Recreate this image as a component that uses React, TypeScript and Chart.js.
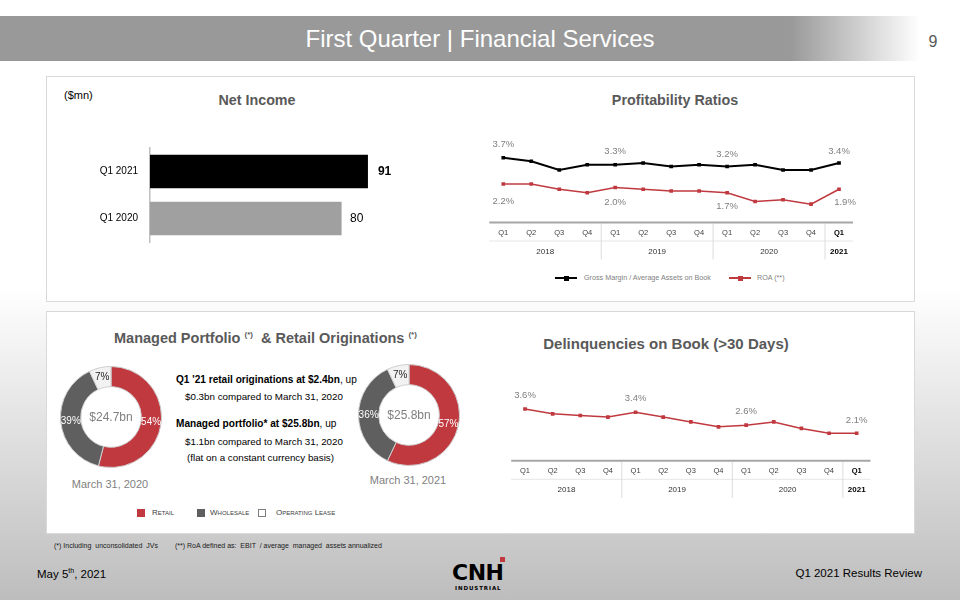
import React, { useEffect, useRef } from 'react';
import { Chart, registerables } from 'chart.js';

Chart.register(...registerables);

const FONT = '"Liberation Sans", Arial, Helvetica, sans-serif';
Chart.defaults.font.family = FONT;

// ---------- data ----------
const netIncomeLabels = ['Q1 2021', 'Q1 2020'];
const netIncomeValues = [91, 80];

const quarterLabels = ['Q1', 'Q2', 'Q3', 'Q4', 'Q1', 'Q2', 'Q3', 'Q4', 'Q1', 'Q2', 'Q3', 'Q4', 'Q1'];
const yearLabels = ['2018', '2019', '2020', '2021'];
const quartersPerYear = [4, 4, 4, 1];

const grossMarginValues = [3.7, 3.5, 3.0, 3.3, 3.3, 3.4, 3.2, 3.3, 3.2, 3.3, 3.0, 3.0, 3.4];
const roaValues = [2.2, 2.2, 1.9, 1.7, 2.0, 1.9, 1.8, 1.8, 1.7, 1.2, 1.3, 1.05, 1.9];
const delinquencyValues = [3.6, 3.3, 3.2, 3.1, 3.4, 3.1, 2.8, 2.5, 2.6, 2.8, 2.4, 2.1, 2.1];

const portfolioSegments = ['Retail', 'Wholesale', 'Operating Lease'];
const portfolio2020 = [54, 39, 7];
const portfolio2021 = [57, 36, 7];
const portfolioTotals = ['$24.7bn', '$25.8bn'];
const portfolioDates = ['March 31, 2020', 'March 31, 2021'];

// ---------- styles ----------
const RED = '#c0393f';
const DARK = '#5f5f5f';
const LIGHT = '#f2f2f2';
const TITLE_GRAY = '#595959';

type TextProps = {
  x: number; y: number; size?: number; color?: string; weight?: number | string;
  align?: 'left' | 'center' | 'right'; family?: string; style?: React.CSSProperties; children?: React.ReactNode;
};
const Text = ({ x, y, size = 11, color = '#000', weight = 400, align = 'left', family = FONT, style, children }: TextProps) => {
  const transform = align === 'center' ? 'translate(-50%,-50%)' : align === 'right' ? 'translate(-100%,-50%)' : 'translateY(-50%)';
  return (
    <div style={{ position: 'absolute', left: x, top: y, transform, fontSize: size, color, fontWeight: weight as any, fontFamily: family, whiteSpace: 'pre', lineHeight: 1, ...style }}>
      {children}
    </div>
  );
};

// ---------- net income bar chart ----------
const NetIncomeChart = () => {
  const ref = useRef<HTMLCanvasElement>(null);
  useEffect(() => {
    const labelPlugin = {
      id: 'barValueLabels',
      afterDatasetsDraw(chart: any) {
        const { ctx } = chart;
        const meta = chart.getDatasetMeta(0);
        ctx.save();
        meta.data.forEach((bar: any, i: number) => {
          ctx.font = `${i === 0 ? 'bold ' : ''}12px ${FONT}`;
          ctx.fillStyle = '#000';
          ctx.textAlign = 'left';
          ctx.textBaseline = 'middle';
          ctx.fillText(String(netIncomeValues[i]), bar.x + (i === 0 ? 10 : 8.5), bar.y);
        });
        ctx.restore();
      },
    };
    const chart = new Chart(ref.current!, {
      type: 'bar',
      data: {
        labels: netIncomeLabels,
        datasets: [{ data: netIncomeValues, backgroundColor: ['#000000', '#a0a0a0'], barPercentage: 0.71, categoryPercentage: 1 }],
      },
      options: {
        indexAxis: 'y',
        animation: false,
        responsive: false,
        layout: { padding: { left: 0, right: 30.5, top: 12.7, bottom: 13.3 } },
        plugins: { legend: { display: false }, tooltip: { enabled: false } },
        scales: {
          x: { display: false, min: 0, max: 100 },
          y: {
            grid: { display: false, drawTicks: false },
            border: { display: true, color: '#bfbfbf', width: 1.5 },
            ticks: { color: '#000', font: { size: 10 }, padding: 12 },
            afterFit: (s: any) => { s.width = 90; },
          },
        },
      } as any,
      plugins: [labelPlugin],
    });
    return () => chart.destroy();
  }, []);
  return <canvas ref={ref} width={360} height={130} style={{ position: 'absolute', left: 60, top: 130 }} />;
};

// ---------- line chart with quarter / year table ----------
type LabelSpec = { ds: number; idx: number; dy: number; dx?: number };
type LineChartProps = {
  left: number; top: number; width: number; height: number;
  padding: { left: number; right: number; top: number; bottom: number };
  axisHeight: number; yMin: number; yMax: number;
  series: { data: number[]; color: string; width: number }[];
  labels: LabelSpec[];
};

const LineTableChart = (p: LineChartProps) => {
  const ref = useRef<HTMLCanvasElement>(null);
  useEffect(() => {
    const tablePlugin = {
      id: 'quarterYearTable',
      afterDraw(chart: any) {
        const { ctx, chartArea, scales } = chart;
        const x = scales.x;
        const top = chartArea.bottom;
        ctx.save();
        // row divider
        ctx.strokeStyle = '#e6e6e6';
        ctx.lineWidth = 1;
        ctx.beginPath();
        ctx.moveTo(chartArea.left, top + 18.5);
        ctx.lineTo(chartArea.right, top + 18.5);
        ctx.stroke();
        // year cells
        let idx = 0;
        let cellLeft = chartArea.left;
        yearLabels.forEach((yl, gi) => {
          const end = idx + quartersPerYear[gi] - 1;
          const cellRight = gi < yearLabels.length - 1
            ? (x.getPixelForValue(end) + x.getPixelForValue(end + 1)) / 2
            : chartArea.right;
          if (gi < yearLabels.length - 1) {
            ctx.strokeStyle = '#dcdcdc';
            ctx.lineWidth = 1;
            ctx.beginPath();
            ctx.moveTo(cellRight, top + 1);
            ctx.lineTo(cellRight, top + 37);
            ctx.stroke();
          }
          const last = gi === yearLabels.length - 1;
          ctx.font = `${last ? 'bold ' : ''}8px ${FONT}`;
          ctx.fillStyle = last ? '#000' : '#333';
          ctx.textAlign = 'center';
          ctx.textBaseline = 'middle';
          ctx.fillText(yl, (cellLeft + cellRight) / 2, top + 29);
          cellLeft = cellRight;
          idx = end + 1;
        });
        // top rule
        ctx.strokeStyle = '#a6a6a6';
        ctx.lineWidth = 2;
        ctx.beginPath();
        ctx.moveTo(chartArea.left, top);
        ctx.lineTo(chartArea.right, top);
        ctx.stroke();
        ctx.restore();
      },
    };
    const valuePlugin = {
      id: 'pointValueLabels',
      afterDatasetsDraw(chart: any) {
        const { ctx } = chart;
        ctx.save();
        ctx.font = `9.5px ${FONT}`;
        ctx.fillStyle = '#7f7f7f';
        ctx.textAlign = 'center';
        ctx.textBaseline = 'middle';
        p.labels.forEach((l) => {
          const pt = chart.getDatasetMeta(l.ds).data[l.idx];
          const v = p.series[l.ds].data[l.idx];
          ctx.fillText(v.toFixed(1) + '%', pt.x + (l.dx || 0), pt.y + l.dy);
        });
        ctx.restore();
      },
    };
    const chart = new Chart(ref.current!, {
      type: 'line',
      data: {
        labels: quarterLabels,
        datasets: p.series.map((s) => ({
          data: s.data,
          borderColor: s.color,
          backgroundColor: s.color,
          borderWidth: s.width,
          pointStyle: 'rect',
          pointRadius: 2.6,
          pointBorderWidth: 0,
          pointBackgroundColor: s.color,
          tension: 0,
          fill: false,
        })),
      },
      options: {
        animation: false,
        responsive: false,
        layout: { padding: p.padding },
        plugins: { legend: { display: false }, tooltip: { enabled: false } },
        scales: {
          x: {
            offset: true,
            grid: { display: false, drawTicks: false },
            border: { display: false },
            ticks: {
              autoSkip: false,
              maxRotation: 0,
              padding: 6,
              color: (c: any) => (c.index === quarterLabels.length - 1 ? '#000' : '#404040'),
              font: (c: any) => ({ size: 7.5, weight: c.index === quarterLabels.length - 1 ? 'bold' : 'normal' }),
            },
            afterFit: (s: any) => { s.height = p.axisHeight; },
          },
          y: { display: false, min: p.yMin, max: p.yMax },
        },
      } as any,
      plugins: [tablePlugin, valuePlugin],
    });
    return () => chart.destroy();
  }, []);
  return <canvas ref={ref} width={p.width} height={p.height} style={{ position: 'absolute', left: p.left, top: p.top }} />;
};

// ---------- doughnut ----------
const Donut = ({ left, top, values, total }: { left: number; top: number; values: number[]; total: string }) => {
  const ref = useRef<HTMLCanvasElement>(null);
  useEffect(() => {
    const plugin = {
      id: 'donutLabels',
      afterDatasetsDraw(chart: any) {
        const { ctx, chartArea } = chart;
        const meta = chart.getDatasetMeta(0);
        ctx.save();
        ctx.textAlign = 'center';
        ctx.textBaseline = 'middle';
        ctx.font = `10px ${FONT}`;
        meta.data.forEach((arc: any, i: number) => {
          const pos = arc.tooltipPosition();
          ctx.fillStyle = i === 2 ? '#262626' : '#ffffff';
          ctx.fillText(values[i] + '%', pos.x, pos.y);
        });
        ctx.font = `12px ${FONT}`;
        ctx.fillStyle = '#7f7f7f';
        ctx.fillText(total, (chartArea.left + chartArea.right) / 2, (chartArea.top + chartArea.bottom) / 2 + 1);
        ctx.restore();
      },
    };
    const chart = new Chart(ref.current!, {
      type: 'doughnut',
      data: {
        labels: portfolioSegments,
        datasets: [{ data: values, backgroundColor: [RED, DARK, LIGHT], borderColor: '#cfcfcf', borderWidth: 1 }],
      },
      options: {
        animation: false,
        responsive: false,
        cutout: '60%',
        plugins: { legend: { display: false }, tooltip: { enabled: false } },
      } as any,
      plugins: [plugin],
    });
    return () => chart.destroy();
  }, []);
  return <canvas ref={ref} width={102} height={102} style={{ position: 'absolute', left, top }} />;
};

const LegendLine = ({ x, y, color }: { x: number; y: number; color: string }) => (
  <div style={{ position: 'absolute', left: x, top: y - 0.75, width: 22, height: 1.5, background: color }}>
    <div style={{ position: 'absolute', left: 8.5, top: -1.75, width: 5, height: 5, background: color }} />
  </div>
);

const Square = ({ x, y, fill, border }: { x: number; y: number; fill: string; border?: string }) => (
  <div style={{ position: 'absolute', left: x, top: y - 4, width: 8, height: 8, boxSizing: 'border-box', background: fill, border: border ? `1px solid ${border}` : 'none' }} />
);

export default function App() {
  const panel: React.CSSProperties = { position: 'absolute', left: 46, width: 869, boxSizing: 'border-box', border: '1.5px solid #d9d9d9', background: '#fff' };
  const caps: React.CSSProperties = { fontVariant: 'small-caps' };
  return (
    <div style={{ position: 'absolute', left: 0, top: 0, width: 960, height: 600, overflow: 'hidden', fontFamily: FONT, background: 'linear-gradient(to bottom, #ffffff 0%, #ffffff 48%, #bdbdbd 100%)' }}>
      {/* header banner */}
      <div style={{ position: 'absolute', left: 0, top: 16, width: 920, height: 45, background: 'linear-gradient(to right, #999999 0%, #999999 85.9%, #ffffff 100%)' }} />
      <Text x={480} y={39} size={24} color="#ffffff" align="center">First Quarter | Financial Services</Text>
      <Text x={933} y={42} size={16} color={TITLE_GRAY} align="center">9</Text>

      {/* panels */}
      <div style={{ ...panel, top: 76, height: 226 }} />
      <div style={{ ...panel, top: 311, height: 223 }} />

      {/* top-left: net income */}
      <Text x={64} y={95} size={11} color="#000">($mn)</Text>
      <Text x={257} y={100} size={14.3} weight="bold" color={TITLE_GRAY} align="center">Net Income</Text>
      <NetIncomeChart />

      {/* top-right: profitability */}
      <Text x={675} y={100} size={14.3} weight="bold" color={TITLE_GRAY} align="center">Profitability Ratios</Text>
      <LineTableChart
        left={470} top={120} width={410} height={150}
        padding={{ left: 19.3, right: 27, top: 15, bottom: 0 }}
        axisHeight={47.5} yMin={0} yMax={5}
        series={[
          { data: grossMarginValues, color: '#000000', width: 2 },
          { data: roaValues, color: RED, width: 1.5 },
        ]}
        labels={[
          { ds: 0, idx: 0, dy: -13 }, { ds: 0, idx: 4, dy: -13.5 }, { ds: 0, idx: 8, dy: -12 }, { ds: 0, idx: 12, dy: -12 },
          { ds: 1, idx: 0, dy: 17.5 }, { ds: 1, idx: 4, dy: 14.5 }, { ds: 1, idx: 8, dy: 14 }, { ds: 1, idx: 12, dy: 13.5, dx: 6 },
        ]}
      />
      <LegendLine x={555} y={278} color="#000000" />
      <Text x={584} y={278} size={7.2} color="#7f7f7f">Gross Margin / Average Assets on Book</Text>
      <LegendLine x={729} y={278} color={RED} />
      <Text x={757} y={278} size={7.2} color="#7f7f7f">ROA (**)</Text>

      {/* bottom-left: managed portfolio */}
      <Text x={114} y={338} size={14.5} weight="bold" color={TITLE_GRAY}>
        Managed Portfolio <span style={{ fontSize: 8, verticalAlign: 'super' }}>(*)</span>&nbsp; &amp; Retail Originations <span style={{ fontSize: 8, verticalAlign: 'super' }}>(*)</span>
      </Text>
      <Donut left={60} top={366} values={portfolio2020} total={portfolioTotals[0]} />
      <Donut left={358} top={364} values={portfolio2021} total={portfolioTotals[1]} />
      <Text x={110} y={484} size={11} color="#7f7f7f" align="center">{portfolioDates[0]}</Text>
      <Text x={408} y={480} size={11} color="#7f7f7f" align="center">{portfolioDates[1]}</Text>

      <Text x={176} y={380} size={10.1} color="#000"><b>Q1 '21 retail originations at $2.4bn</b>, up</Text>
      <Text x={185} y={396.5} size={9.8} color="#000">$0.3bn compared to March 31, 2020</Text>
      <Text x={176} y={424} size={10.1} color="#000"><b>Managed portfolio* at $25.8bn</b>, up</Text>
      <Text x={185} y={441.5} size={9.8} color="#000">$1.1bn compared to March 31, 2020</Text>
      <Text x={187} y={458.3} size={9.8} color="#000">(flat on a constant currency basis)</Text>

      <Square x={137} y={513} fill={RED} />
      <Text x={152} y={513} size={8} color="#404040" style={caps}>Retail</Text>
      <Square x={197} y={513} fill={DARK} />
      <Text x={210} y={513} size={8} color="#404040" style={caps}>Wholesale</Text>
      <Square x={258} y={513} fill="#ffffff" border="#7f7f7f" />
      <Text x={276} y={513} size={8} color="#404040" style={caps}>Operating Lease</Text>

      {/* bottom-right: delinquencies */}
      <Text x={666} y={343} size={15} weight="bold" color={TITLE_GRAY} align="center">Delinquencies on Book (&gt;30 Days)</Text>
      <LineTableChart
        left={490} top={375} width={400} height={130}
        padding={{ left: 21.2, right: 19.5, top: 17.8, bottom: 0 }}
        axisHeight={44.2} yMin={0.4} yMax={4.6}
        series={[{ data: delinquencyValues, color: RED, width: 1.5 }]}
        labels={[{ ds: 0, idx: 0, dy: -14 }, { ds: 0, idx: 4, dy: -14 }, { ds: 0, idx: 8, dy: -13.6 }, { ds: 0, idx: 12, dy: -13.3 }]}
      />

      {/* footnotes */}
      <Text x={54} y={545} size={7} color="#1a1a1a">(*) Including  unconsolidated  JVs</Text>
      <Text x={175} y={545} size={7} color="#1a1a1a">(**) RoA defined as:  EBIT  / average  managed  assets annualized</Text>

      {/* footer */}
      <Text x={37} y={574} size={11.5} color="#000">May 5<sup style={{ fontSize: 7 }}>th</sup>, 2021</Text>
      <Text x={922} y={574} size={11.5} color="#000" align="right">Q1 2021 Results Review</Text>

      {/* logo */}
      <div style={{ position: 'absolute', left: 452, top: 562, fontFamily: '"DejaVu Sans", sans-serif', fontWeight: 'bold', fontSize: 22, lineHeight: '22px', color: '#000', letterSpacing: -0.5 }}>CNH</div>
      <div style={{ position: 'absolute', left: 500, top: 557, width: 5, height: 5, background: RED }} />
      <div style={{ position: 'absolute', left: 455, top: 585, fontFamily: '"DejaVu Sans", sans-serif', fontWeight: 'bold', fontSize: 5.5, lineHeight: '6px', color: '#000', letterSpacing: 0.9 }}>INDUSTRIAL</div>
    </div>
  );
}
